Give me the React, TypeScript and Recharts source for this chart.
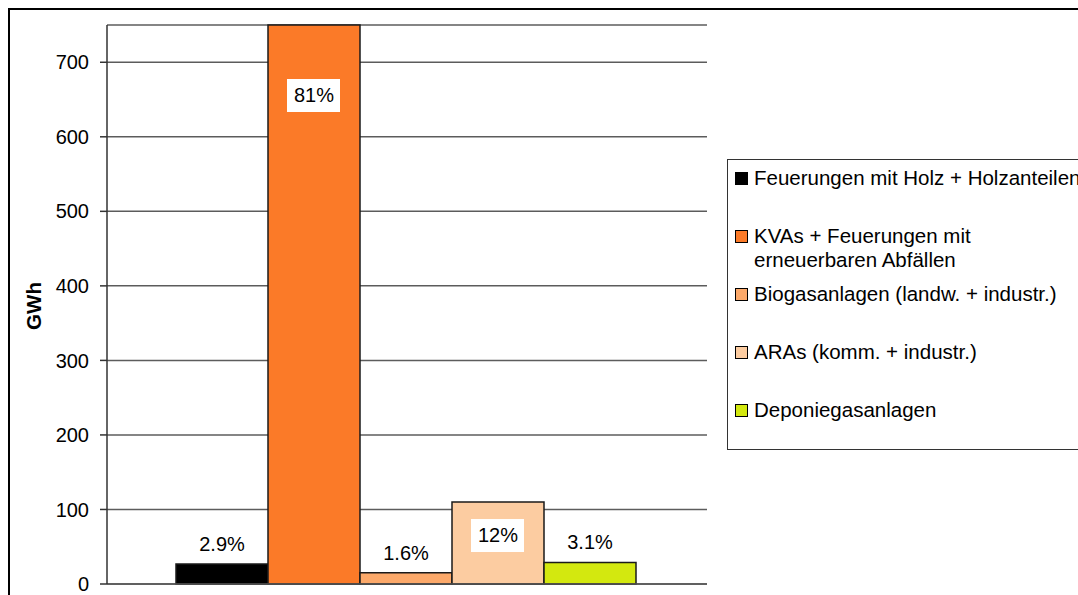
import React from "react";
import {
  BarChart,
  Bar,
  XAxis,
  YAxis,
  CartesianGrid,
  LabelList,
} from "recharts";

const seriesNames = [
  "Feuerungen mit Holz + Holzanteilen",
  "KVAs + Feuerungen mit erneuerbaren Abfällen",
  "Biogasanlagen (landw. + industr.)",
  "ARAs (komm. + industr.)",
  "Deponiegasanlagen",
];
const legendLines = [
  ["Feuerungen mit Holz + Holzanteilen"],
  ["KVAs + Feuerungen mit", "erneuerbaren Abfällen"],
  ["Biogasanlagen (landw. + industr.)"],
  ["ARAs (komm. + industr.)"],
  ["Deponiegasanlagen"],
];
const seriesValues = [27, 750, 15, 110, 29];
const shareLabels = ["2.9%", "81%", "1.6%", "12%", "3.1%"];
const yTicks = [0, 100, 200, 300, 400, 500, 600, 700];

const colors = ["#000000", "#fb7a28", "#fca96a", "#fccca1", "#d3e80f"];
// where each share label sits: above the bar, or boxed inside it
const labelInside = [false, true, false, true, false];
const insideDy = [0, 70, 0, 33, 0];

const keys = seriesValues.map((_, i) => `s${i}`);
const chartData = [
  seriesValues.reduce<Record<string, number | string>>(
    (row, v, i) => {
      row[keys[i]] = v;
      return row;
    },
    { name: "Total" }
  ),
];

const FONT = "'Liberation Sans', Arial, sans-serif";

function makeLabel(i: number) {
  return (props: any) => {
    const { x, y, width } = props;
    const cx = Number(x) + Number(width) / 2;
    const text = shareLabels[i];
    if (labelInside[i]) {
      const cy = Number(y) + insideDy[i];
      return (
        <g>
          <rect x={cx - 27} y={cy - 16} width={53} height={33} fill="#fff" />
          <text
            x={cx}
            y={cy}
            textAnchor="middle"
            dominantBaseline="central"
            fontSize={20}
            fontFamily={FONT}
            fill="#000"
          >
            {text}
          </text>
        </g>
      );
    }
    return (
      <text
        x={cx}
        y={Number(y) - 20}
        textAnchor="middle"
        dominantBaseline="central"
        fontSize={20}
        fontFamily={FONT}
        fill="#000"
      >
        {text}
      </text>
    );
  };
}

function AxisTitle(props: any) {
  const { viewBox } = props;
  const x = viewBox.x + 23.5;
  const y = viewBox.y + viewBox.height / 2 + 1.5;
  return (
    <text
      x={x}
      y={y}
      transform={`rotate(-90 ${x} ${y})`}
      textAnchor="middle"
      dominantBaseline="central"
      fontSize={20.5}
      fontWeight="bold"
      fontFamily={FONT}
      fill="#000"
    >
      GWh
    </text>
  );
}

export default function App() {
  return (
    <div
      style={{
        position: "fixed",
        left: 8,
        top: 8,
        width: 1070,
        height: 587,
        borderTop: "2px solid #000",
        borderLeft: "2px solid #000",
        overflow: "hidden",
        background: "#fff",
        fontFamily: FONT,
      }}
    >
      <BarChart
        width={1070}
        height={600}
        data={chartData}
        margin={{ top: 15, right: 373, bottom: 25, left: 0 }}
        barCategoryGap={69}
        barGap={0}
      >
        <CartesianGrid
          horizontal
          vertical={false}
          stroke="#5c5c5c"
          strokeWidth={1.5}
        />
        <XAxis
          dataKey="name"
          tick={false}
          tickLine={false}
          height={1}
          axisLine={{ stroke: "#555", strokeWidth: 1.5 }}
        />
        <YAxis
          width={97}
          domain={[0, 750]}
          ticks={yTicks}
          interval={0}
          tickSize={7}
          tickMargin={11}
          tick={{ fontSize: 20, fill: "#000", fontFamily: FONT }}
          axisLine={{ stroke: "#333", strokeWidth: 1.5 }}
          tickLine={{ stroke: "#333", strokeWidth: 1.5 }}
          label={<AxisTitle />}
        />
        {keys.map((k, i) => (
          <Bar
            key={k}
            dataKey={k}
            name={seriesNames[i]}
            fill={colors[i]}
            stroke="#1a1a1a"
            strokeWidth={1.5}
            isAnimationActive={false}
          >
            <LabelList dataKey={k} content={makeLabel(i)} />
          </Bar>
        ))}
      </BarChart>
      <div
        style={{
          position: "absolute",
          left: 717,
          top: 149,
          width: 400,
          height: 291,
          border: "1px solid #333",
          boxSizing: "border-box",
          paddingTop: 6,
        }}
      >
        {legendLines.map((lines, i) => (
          <div
            key={i}
            style={{
              height: 58,
              display: "flex",
              alignItems: "flex-start",
              fontSize: 20.5,
              lineHeight: "24px",
              color: "#000",
            }}
          >
            <span
              style={{
                display: "inline-block",
                width: 11,
                height: 11,
                background: colors[i],
                border: "1px solid #000",
                marginLeft: 7,
                marginTop: 6,
                marginRight: 6,
                flexShrink: 0,
              }}
            />
            <span style={{ whiteSpace: "nowrap" }}>
              {lines.map((l, j) => (
                <div key={j}>{l}</div>
              ))}
            </span>
          </div>
        ))}
      </div>
    </div>
  );
}
